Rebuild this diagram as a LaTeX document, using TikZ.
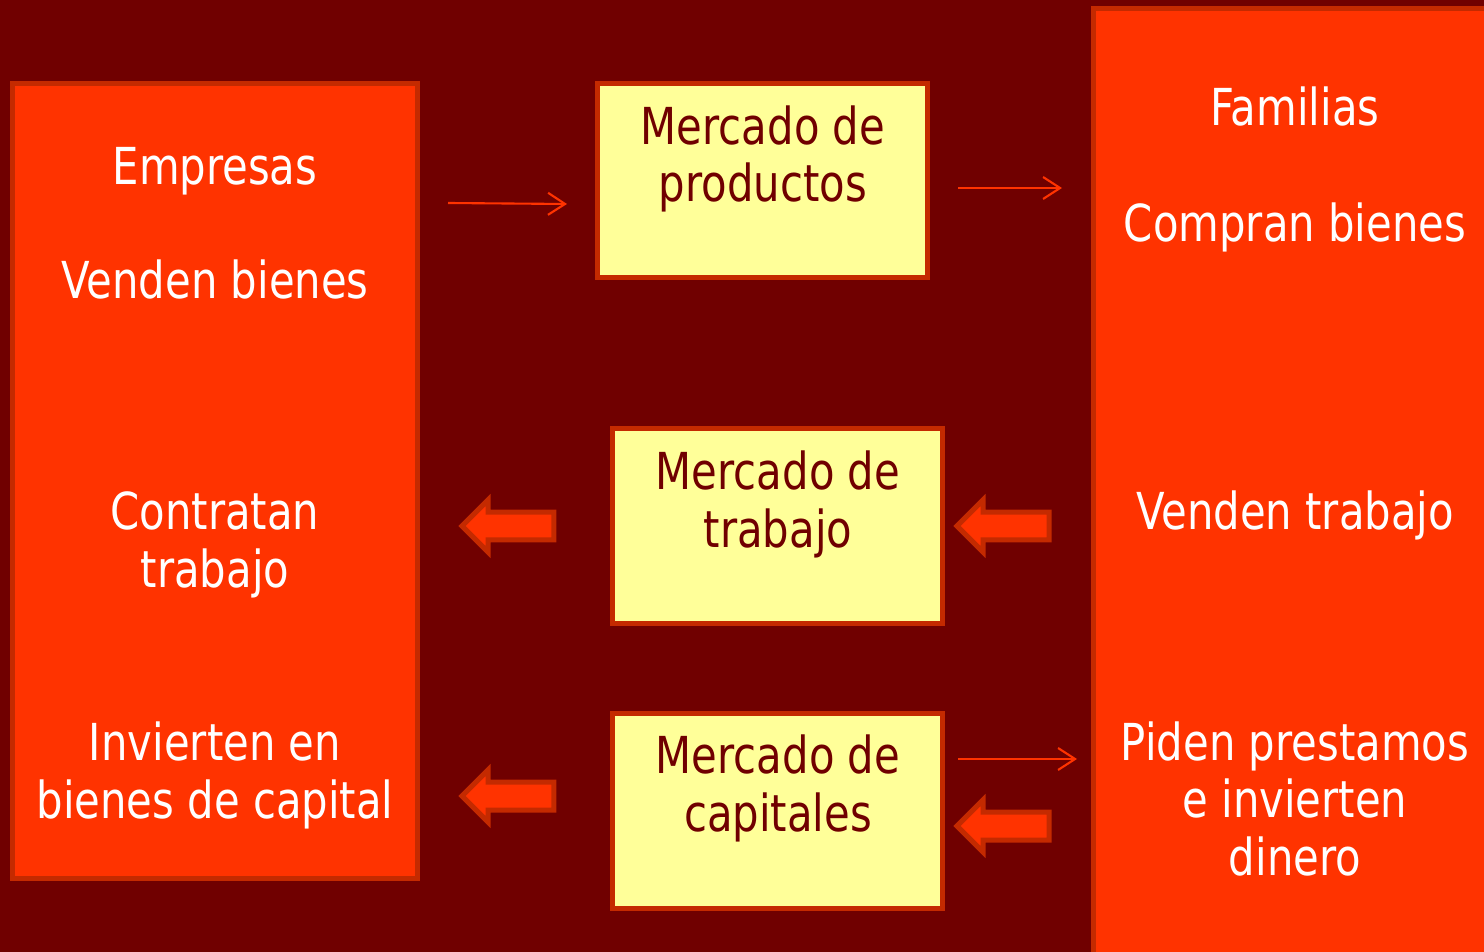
\documentclass[tikz,border=0pt]{standalone}
\usepackage{fontspec}
\setmainfont{DejaVu Sans}[FakeStretch=0.82]
\usetikzlibrary{
  arrows.meta,
  shapes.arrows
  }

\definecolor{fondo}{HTML}{700000}
\definecolor{naranja}{HTML}{FF3300}
\definecolor{borde}{HTML}{C42A00}
\definecolor{crema}{HTML}{FFFF99}

\begin{document}
\begin{tikzpicture}[x=0.02cm, y=-0.02cm]
    \tikzset{caja/.style = {draw=borde, line width=0.1cm, fill=naranja, inner sep=0pt, outer sep=0pt},
             mercado/.style = {draw=borde, line width=0.1cm, fill=crema, inner sep=0pt, outer sep=0pt,
                               minimum width=6.62cm, minimum height=3.9cm},
             texto/.style = {text=white, align=center, anchor=base, font=\fontsize{29}{32.5}\selectfont},
             textom/.style = {text=fondo, align=center, anchor=base, font=\fontsize{29}{32.5}\selectfont},
             flecha/.style = {draw=naranja, line width=1.2pt, -{Straight Barb[length=0.34cm, width=0.44cm, line width=1.2pt]}},
             bloque/.style = {single arrow, shape border rotate=180, draw=borde, line width=0.1cm, fill=naranja,
                              inner xsep=0pt, inner ysep=0.23cm, single arrow head extend=0.24cm,
                              single arrow tip angle=90, minimum height=1.84cm}}
    % fondo
    \fill[fondo] (0,0) rectangle (1484,952);
    \useasboundingbox (0,0) rectangle (1484,952);

    % empresas
    \node [caja, minimum width=8.12cm, minimum height=15.92cm] (empresas) at (215,481) {};
    \node [texto] (temp) at (215,185) {Empresas};
    \node [texto] (tvend) at (215,299) {Venden bienes};
    \node [texto] (tcontr) at (215,587) {Contratan\\trabajo};
    \node [texto] (tinv) at (215,818) {Invierten en\\bienes de capital};

    % familias
    \node [caja, minimum width=8.2cm, minimum height=19.2cm] (familias) at (1298,488) {};
    \node [texto] (tfam) at (1295,126) {Familias};
    \node [texto] (tcomp) at (1295,242) {Compran bienes};
    \node [texto] (ttrab) at (1295,530) {Venden trabajo};
    \node [texto] (tpid) at (1295,875) {Piden prestamos\\e invierten\\dinero};

    % mercados
    \node [mercado] (mprod) at (762.5,180.5) {};
    \node [mercado] (mtrab) at (777.5,526) {};
    \node [mercado] (mcap) at (777.5,811) {};
    \node [textom] (tprod) at (763,202) {Mercado de\\productos};
    \node [textom] (ttrabm) at (778,547) {Mercado de\\trabajo};
    \node [textom] (tcapm) at (778,831) {Mercado de\\capitales};

    % flechas finas
    \coordinate (a1) at (448,203);
    \coordinate (a2) at (567,204);
    \coordinate (b1) at (958,188);
    \coordinate (b2) at (1062,188);
    \coordinate (c1) at (958,759);
    \coordinate (c2) at (1077,759);
    \draw [flecha] (a1) -- (a2);
    \draw [flecha] (b1) -- (b2);
    \draw [flecha] (c1) -- (c2);

    % flechas gruesas
    \node [bloque] (f1) at (515,526) {};
    \node [bloque] (f2) at (1010,526) {};
    \node [bloque] (f3) at (515,796) {};
    \node [bloque] (f4) at (1010,826) {};

\end{tikzpicture}
\end{document}
